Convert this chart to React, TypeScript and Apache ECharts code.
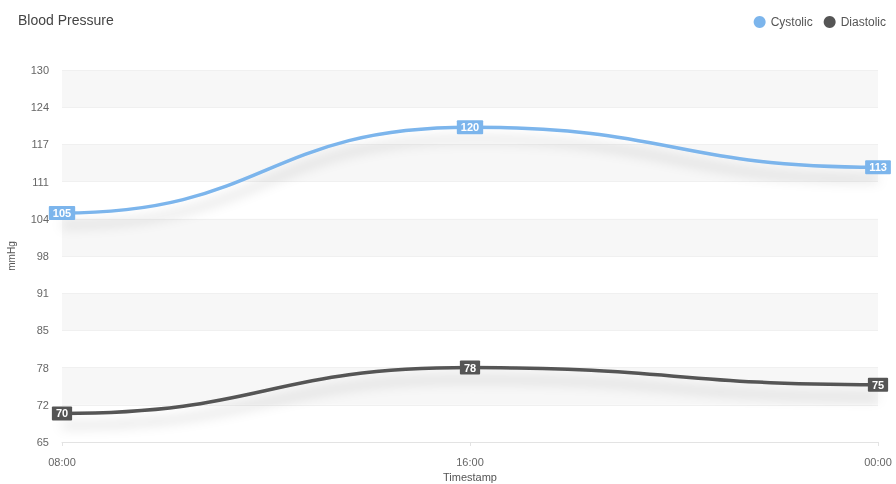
import React, { useEffect, useRef } from "react";
import * as echarts from "echarts";

const categories = ["08:00", "16:00", "00:00"];
const systolic = [105, 120, 113];
const diastolic = [70, 78, 75];
const seriesNames = ["Cystolic", "Diastolic"];
const colors = ["#7cb5ec", "#555555"];

export default function App() {
  const ref = useRef<HTMLDivElement>(null);
  useEffect(() => {
    const chart = echarts.init(ref.current!, null, { renderer: "svg" });
    const font = "Arial, 'Liberation Sans', sans-serif";

    const curveSeries = (name: string, data: number[], color: string) => ({
      name,
      type: "custom",
      z: 1,
      data: data.map((v, i) => [i, v]),
      itemStyle: { color },
      renderItem: (params: any, api: any) => {
        if (params.dataIndex !== 0) return null;
        const pts = data.map((v, i) => api.coord([i, v]));
        let d = `M${pts[0][0]},${pts[0][1]}`;
        for (let i = 1; i < pts.length; i++) {
          const [x0, y0] = pts[i - 1];
          const [x1, y1] = pts[i];
          const mx = (x0 + x1) / 2;
          d += ` C${mx},${y0} ${mx},${y1} ${x1},${y1}`;
        }
        return {
          type: "path",
          shape: { pathData: d },
          style: {
            fill: "none",
            stroke: color,
            lineWidth: 3.5,
            shadowColor: "rgba(0,0,0,0.2)",
            shadowBlur: 12,
            shadowOffsetY: 12,
          },
          silent: true,
        };
      },
    });

    const labelSeries = (name: string, data: number[], color: string) => ({
      name,
      type: "line",
      z: 3,
      data,
      symbol: "circle",
      symbolSize: 1,
      itemStyle: { color },
      lineStyle: { width: 0, opacity: 0 },
      label: {
        show: true,
        position: "inside",
        backgroundColor: color,
        color: "#fff",
        fontWeight: "bold",
        fontSize: 11,
        fontFamily: font,
        padding: [2, 4, 1, 4],
        borderRadius: 1,
      },
    });

    chart.setOption({
      animation: false,
      title: {
        text: "Blood Pressure",
        left: 13,
        top: 8,
        textStyle: { fontSize: 14, fontWeight: "normal", color: "#444", fontFamily: font },
      },
      legend: {
        right: 5,
        top: 11,
        icon: "circle",
        itemWidth: 12,
        itemHeight: 12,
        itemGap: 11,
        textStyle: { fontSize: 12, color: "#555", fontFamily: font },
        data: seriesNames,
      },
      grid: { left: 62, right: 18, top: 70, bottom: 42, outerBoundsMode: "none" },
      xAxis: {
        type: "category",
        data: categories,
        boundaryGap: false,
        name: "Timestamp",
        nameLocation: "middle",
        nameGap: 29,
        nameTextStyle: { fontSize: 11, color: "#555", fontFamily: font },
        axisLine: { lineStyle: { color: "#e3e3e3" } },
        axisTick: { show: true, length: 4, lineStyle: { color: "#e3e3e3" } },
        axisLabel: { fontSize: 11, color: "#666", fontFamily: font, margin: 14 },
      },
      yAxis: {
        type: "value",
        min: 65,
        max: 130,
        interval: 6.5,
        name: "mmHg",
        nameLocation: "middle",
        nameGap: 46,
        nameTextStyle: { fontSize: 10, color: "#555", fontFamily: font },
        axisLine: { show: false },
        axisTick: { show: false },
        axisLabel: {
          fontSize: 11,
          color: "#666",
          fontFamily: font,
          margin: 13,
          formatter: (v: number) => String(Math.round(v)),
        },
        splitLine: { show: true, lineStyle: { color: "#f0f0f0" } },
        splitArea: { show: true, areaStyle: { color: ["rgba(255,255,255,0)", "#f7f7f7"] } },
      },
      series: [
        curveSeries(seriesNames[0], systolic, colors[0]),
        curveSeries(seriesNames[1], diastolic, colors[1]),
        labelSeries(seriesNames[0], systolic, colors[0]),
        labelSeries(seriesNames[1], diastolic, colors[1]),
      ],
    });
    return () => chart.dispose();
  }, []);
  return (
    <div
      ref={ref}
      style={{ position: "fixed", left: 0, top: 0, width: 896, height: 484 }}
    />
  );
}
